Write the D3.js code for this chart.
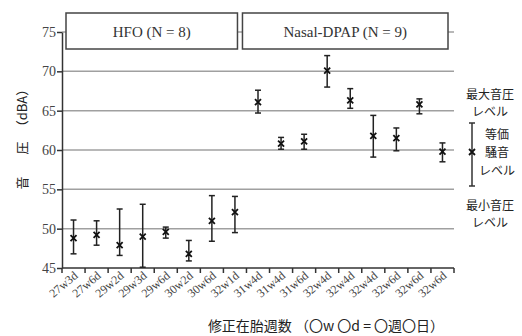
<!DOCTYPE html>
<html>
<head>
<meta charset="utf-8">
<script src="https://d3js.org/d3.v7.min.js"></script>
<style>
    body { margin: 0; background: #fff; }
    .tick text { font-family: "Liberation Serif", serif; fill: #444; }
    .jp { font-family: "Noto Sans CJK JP", sans-serif; fill: #222; }
</style>
</head>
<body>
<svg id="svg" width="522" height="336"></svg>
<script>
    // categories (corrected gestational age), duplicates kept by index
    let labels = ['27w3d','27w6d','29w2d','29w3d','29w6d','30w2d','30w6d','32w1d',
                  '31w4d','31w4d','31w6d','32w4d','32w4d','32w4d','32w6d','32w6d','32w6d'];
    // equivalent noise level (mean), max and min sound pressure level
    let leq  = [48.8, 49.2, 47.9, 49.0, 49.6, 46.8, 51.0, 52.1,
                66.1, 60.8, 61.1, 70.1, 66.3, 61.8, 61.5, 65.8, 59.8];
    let lmax = [51.1, 51.0, 52.5, 53.1, 50.2, 48.5, 54.2, 54.1,
                67.6, 61.6, 62.0, 72.0, 67.8, 64.4, 62.8, 66.5, 60.9];
    let lmin = [46.8, 47.9, 46.6, 45.1, 48.8, 45.9, 48.4, 49.5,
                64.7, 60.1, 60.1, 68.0, 65.3, 59.1, 59.9, 64.6, 58.5];
    let yTicks = [45, 50, 55, 60, 65, 70, 75];
    let groups = [
        {name: 'HFO (N = 8)', from: 0, to: 7},
        {name: 'Nasal-DPAP (N = 9)', from: 8, to: 16}
    ];

    let svg = d3.select('#svg');
    let plotLeft = 62, plotRight = 454, plotTop = 32, plotBottom = 268;

    let xScale = d3.scaleBand()
        .domain(d3.range(labels.length))
        .range([plotLeft, plotRight]);

    let yScale = d3.scaleLinear()
        .domain([45, 75])
        .range([plotBottom, plotTop]);

    // gridlines
    svg.append('g')
        .selectAll('line')
        .data(yTicks.slice(1))
        .enter()
        .append('line')
        .attr('x1', plotLeft)
        .attr('x2', plotRight)
        .attr('y1', d => yScale(d))
        .attr('y2', d => yScale(d))
        .attr('stroke', '#a0a0a0')
        .attr('stroke-width', 1.5);

    // group header boxes
    let boxX = (d, i) => i == 0 ? xScale(d.from) + 4 : xScale(d.from) - 4;
    let boxW = (d, i) => i == 0
        ? xScale(d.to) + xScale.bandwidth() - xScale(d.from) - 13
        : xScale(d.to) + xScale.bandwidth() - xScale(d.from) - 2;
    svg.append('g')
        .selectAll('rect')
        .data(groups)
        .enter()
        .append('rect')
        .attr('x', boxX)
        .attr('width', boxW)
        .attr('y', yScale(75) - 19)
        .attr('height', 36)
        .attr('fill', '#fff')
        .attr('stroke', '#444')
        .attr('stroke-width', 1.5);

    svg.append('g')
        .selectAll('text')
        .data(groups)
        .enter()
        .append('text')
        .attr('x', (d, i) => boxX(d, i) + boxW(d, i) / 2)
        .attr('y', yScale(75) + 5)
        .attr('text-anchor', 'middle')
        .style('font-family', '"Liberation Serif", serif')
        .style('font-size', '15px')
        .attr('fill', '#333')
        .text(d => d.name);

    // axes
    let yAxis = d3.axisLeft(yScale).tickValues(yTicks).tickSize(5).tickSizeOuter(0);
    let yAxisGroup = svg.append('g')
        .attr('transform', `translate(${plotLeft}, 0)`)
        .call(yAxis);
    yAxisGroup.select('.domain').attr('stroke', '#333').attr('stroke-width', 1.5);
    yAxisGroup.selectAll('.tick line').attr('stroke', '#333').attr('stroke-width', 1.5);
    yAxisGroup.selectAll('.tick text').style('font-size', '14px').attr('x', -6);

    let xAxis = d3.axisBottom(xScale).tickSize(0).tickFormat(i => labels[i]);
    let xAxisGroup = svg.append('g')
        .attr('transform', `translate(0, ${plotBottom})`)
        .call(xAxis);
    xAxisGroup.select('.domain')
        .attr('d', `M${plotLeft},0H${plotRight}`)
        .attr('stroke', '#333')
        .attr('stroke-width', 1.5);
    xAxisGroup.selectAll('.tick text')
        .style('font-size', '12px')
        .attr('text-anchor', 'end')
        .attr('dy', null)
        .attr('transform', 'translate(5, 9) rotate(-40)')
        .attr('y', 0)
        .attr('x', 0);

    // boundary tick marks on x axis
    svg.append('g')
        .selectAll('line')
        .data(d3.range(labels.length + 1))
        .enter()
        .append('line')
        .attr('x1', i => i < labels.length ? xScale(i) : plotRight)
        .attr('x2', i => i < labels.length ? xScale(i) : plotRight)
        .attr('y1', plotBottom)
        .attr('y2', plotBottom + 5)
        .attr('stroke', '#333')
        .attr('stroke-width', 1.5);

    // error bars
    let bars = svg.append('g')
        .selectAll('g')
        .data(labels.map((l, i) => i))
        .enter()
        .append('g')
        .attr('transform', i => `translate(${xScale(i) + xScale.bandwidth() / 2}, 0)`);

    bars.append('line')
        .attr('y1', i => yScale(lmax[i]))
        .attr('y2', i => yScale(lmin[i]))
        .attr('stroke', '#222')
        .attr('stroke-width', 1.5);
    bars.append('line')
        .attr('x1', -3).attr('x2', 3)
        .attr('y1', i => yScale(lmax[i]))
        .attr('y2', i => yScale(lmax[i]))
        .attr('stroke', '#222')
        .attr('stroke-width', 1.5);
    bars.append('line')
        .attr('x1', -3).attr('x2', 3)
        .attr('y1', i => yScale(lmin[i]))
        .attr('y2', i => yScale(lmin[i]))
        .attr('stroke', '#222')
        .attr('stroke-width', 1.5);
    bars.append('path')
        .attr('d', i => {
            let y = yScale(leq[i]);
            return `M-3,${y - 3}L3,${y + 3}M3,${y - 3}L-3,${y + 3}`;
        })
        .attr('stroke', '#111')
        .attr('stroke-width', 1.8);

    // legend
    let lx = 472;
    let legend = svg.append('g');
    legend.append('line')
        .attr('x1', lx).attr('x2', lx)
        .attr('y1', 123).attr('y2', 186)
        .attr('stroke', '#333').attr('stroke-width', 1.5);
    legend.append('line')
        .attr('x1', lx - 3).attr('x2', lx + 3)
        .attr('y1', 123).attr('y2', 123)
        .attr('stroke', '#333').attr('stroke-width', 1.5);
    legend.append('line')
        .attr('x1', lx - 3).attr('x2', lx + 3)
        .attr('y1', 186).attr('y2', 186)
        .attr('stroke', '#333').attr('stroke-width', 1.5);
    legend.append('path')
        .attr('d', `M${lx - 3},149L${lx + 3},155M${lx + 3},149L${lx - 3},155`)
        .attr('stroke', '#111').attr('stroke-width', 1.8);

    let legendText = [
        {t: '最大音圧', x: 490, y: 99},
        {t: 'レベル', x: 490, y: 116},
        {t: '等価', x: 497, y: 139},
        {t: '騒音', x: 497, y: 157},
        {t: 'レベル', x: 497, y: 175},
        {t: '最小音圧', x: 490, y: 210},
        {t: 'レベル', x: 490, y: 227}
    ];
    legend.selectAll('text')
        .data(legendText)
        .enter()
        .append('text')
        .attr('class', 'jp')
        .attr('x', d => d.x)
        .attr('y', d => d.y)
        .attr('text-anchor', 'middle')
        .style('font-size', '12px')
        .text(d => d.t);

    // axis titles
    let yLabel = [
        {t: '音', y: 183},
        {t: '圧', y: 148},
        {t: '（dBA）', y: 108}
    ];
    svg.append('g')
        .selectAll('text')
        .data(yLabel)
        .enter()
        .append('text')
        .attr('class', 'jp')
        .attr('text-anchor', 'middle')
        .attr('transform', d => `translate(27, ${d.y}) rotate(-90)`)
        .style('font-size', '13px')
        .text(d => d.t);

    svg.append('text')
        .attr('class', 'jp')
        .attr('x', 326)
        .attr('y', 331)
        .attr('text-anchor', 'middle')
        .style('font-size', '14px')
        .text('修正在胎週数 （〇w 〇d = 〇週〇日）');
</script>
</body>
</html>
